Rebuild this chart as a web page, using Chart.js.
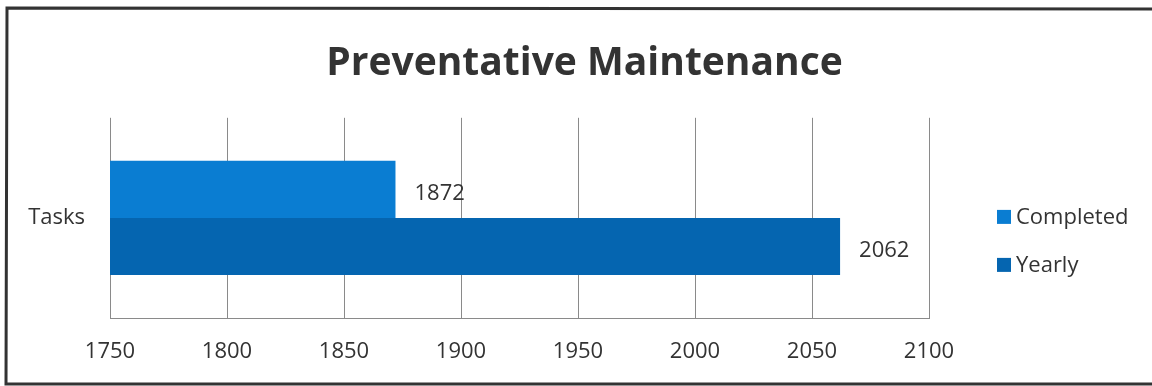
<!DOCTYPE html>
<html>
<head>
<meta charset="utf-8">
<script src="https://cdn.jsdelivr.net/npm/chart.js@4"></script>
<style>
  html, body { margin: 0; padding: 0; background: #fff; }
  #wrap { width: 1152px; height: 386px; }
</style>
</head>
<body>
<div id="wrap"><canvas id="chart" width="1152" height="386"></canvas></div>
<script>
const categories = ['Tasks'];
const seriesNames = ['Completed', 'Yearly'];
const completed = [1872];
const yearly = [2062];
const xTicks = [1750, 1800, 1850, 1900, 1950, 2000, 2050, 2100];

const FONT = "'Open Sans', sans-serif";

// white page + dark frame on top, left and bottom (right edge is cut off in the scan)
const frame = {
  id: 'frame',
  beforeDraw(chart) {
    const c = chart.ctx;
    const w = chart.width, h = chart.height;
    c.save();
    c.fillStyle = '#fff';
    c.fillRect(0, 0, w, h);
    c.strokeStyle = '#333';
    c.lineWidth = 3;
    c.beginPath();
    c.moveTo(w, 9);
    c.lineTo(7, 8);
    c.lineTo(6, h - 2);
    c.lineTo(w, h - 2);
    c.stroke();
    c.restore();
  }
};

// value written just past the end of each bar
const barValues = {
  id: 'barValues',
  afterDatasetsDraw(chart) {
    const c = chart.ctx;
    c.save();
    c.font = '22px ' + FONT;
    c.fillStyle = '#333';
    c.textBaseline = 'middle';
    chart.data.datasets.forEach((ds, i) => {
      chart.getDatasetMeta(i).data.forEach((bar, j) => {
        c.fillText(ds.data[j], bar.x + 19, bar.y + 4);
      });
    });
    c.restore();
  }
};

// legend to the right of the plot, stacked like the Excel one
const sideLegend = {
  id: 'sideLegend',
  afterDraw(chart) {
    const c = chart.ctx;
    const a = chart.chartArea;
    const x = a.right + 68;
    const mid = (a.top + a.bottom) / 2;
    c.save();
    c.font = '22px ' + FONT;
    c.textBaseline = 'middle';
    chart.data.datasets.forEach((ds, i) => {
      const y = mid - 1 + i * 48;
      c.fillStyle = ds.backgroundColor;
      c.fillRect(x, y - 7, 14, 14);
      c.fillStyle = '#333';
      c.fillText(ds.label, x + 19, y + 1);
    });
    c.restore();
  }
};

new Chart(document.getElementById('chart'), {
  type: 'bar',
  data: {
    labels: categories,
    datasets: [
      { label: seriesNames[0], data: completed, backgroundColor: '#0A7DD2' },
      { label: seriesNames[1], data: yearly, backgroundColor: '#0565B0' }
    ]
  },
  options: {
    indexAxis: 'y',
    responsive: false,
    animation: false,
    layout: { padding: { left: 25, right: 8, top: 0, bottom: 20 } },
    datasets: { bar: { categoryPercentage: 0.57, barPercentage: 1 } },
    scales: {
      x: {
        min: 1750, max: 2100,
        afterBuildTicks: s => { s.ticks = xTicks.map(v => ({ value: v })); },
        afterFit: s => { s.height = 48; },
        grid: { color: '#8a8a8a', drawTicks: false },
        border: { color: '#8a8a8a' },
        ticks: {
          color: '#333', font: { family: FONT, size: 22 }, padding: 21,
          callback: v => String(v)
        }
      },
      y: {
        grid: { display: false, drawTicks: false },
        border: { display: false },
        afterFit: s => { s.width = 85; },
        ticks: { color: '#333', font: { family: FONT, size: 22 }, padding: 25 }
      },
      // empty axis on the right, only there to leave room for the legend
      gap: {
        type: 'category', axis: 'y', position: 'right',
        grid: { display: false }, border: { display: false },
        ticks: { display: false },
        afterFit: s => { s.width = 215; }
      }
    },
    plugins: {
      title: {
        display: true,
        text: 'Preventative Maintenance',
        color: '#333',
        font: { family: FONT, size: 39, weight: 'bold' },
        padding: { top: 40, bottom: 31 }
      },
      legend: { display: false },
      tooltip: { enabled: false }
    }
  },
  plugins: [frame, barValues, sideLegend]
});
</script>
</body>
</html>
